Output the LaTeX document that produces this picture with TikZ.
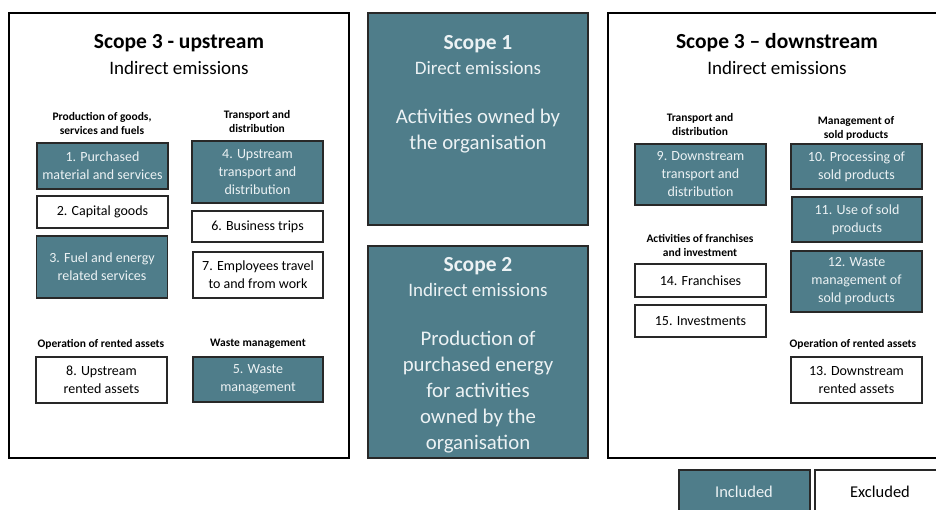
\documentclass[tikz,border=0pt]{standalone}
\usepackage{fontspec}
\setmainfont{Carlito}
\definecolor{teal}{RGB}{79,125,138}
\definecolor{lite}{RGB}{236,242,244}
\definecolor{edge}{RGB}{40,40,40}
\begin{document}
\begin{tikzpicture}[x=1pt,y=-1pt,
  frame/.style={draw=black,line width=2pt,fill=white,inner sep=0pt},
  big/.style={draw=edge,line width=1.6pt,fill=teal,inner sep=0pt},
  inc/.style={draw=edge,line width=1.2pt,fill=teal,text=lite,align=center,inner sep=0pt,font=\fontsize{14}{18}\selectfont},
  exc/.style={draw=edge,line width=1.2pt,fill=white,text=black,align=center,inner sep=0pt,font=\fontsize{14}{18}\selectfont},
  ttl/.style={font=\bfseries\fontsize{21.5}{22}\selectfont,inner sep=0pt},
  ttlb/.style={font=\bfseries\fontsize{21.5}{22}\selectfont,inner sep=0pt,text=lite},
  sub/.style={font=\fontsize{19}{20}\selectfont,inner sep=0pt},
  cat/.style={font=\bfseries\fontsize{11.5}{14}\selectfont,align=center,inner sep=0pt},
  body/.style={font=\fontsize{20.8}{26}\selectfont,align=center,inner sep=0pt,text=lite},
  leg/.style={font=\fontsize{16.5}{18}\selectfont,inner sep=0pt}]
\clip (0,0) rectangle (936,510);
\fill[white] (0,0) rectangle (936,510);
% frames
\node[frame,minimum width=340,minimum height=445] (up) at (179,235.5) {};
\node[big,minimum width=220,minimum height=212] (s1) at (478,119) {};
\node[big,minimum width=220,minimum height=212] (s2) at (478,352) {};
\node[frame,minimum width=340,minimum height=445] (down) at (778,235.5) {};
% upstream texts
\node[ttl] (uptitle) at (179,43) {Scope 3 - upstream};
\node[sub] (upsub) at (179,68) {Indirect emissions};
\node[cat] (c1) at (102,124) {Production of goods,\\services and fuels};
\node[cat] (c2) at (257,122) {Transport and\\distribution};
\node[cat] (c3) at (101,344) {Operation of rented assets};
\node[cat] (c4) at (258,344) {Waste management};
\node[inc,minimum width=131,minimum height=46] (b1) at (102.5,166) {1. Purchased\\material and services};
\node[exc,minimum width=131,minimum height=32] (b2) at (102.5,212) {2. Capital goods};
\node[inc,minimum width=131,minimum height=62] (b3) at (102,267) {3. Fuel and energy\\related services};
\node[inc,minimum width=131,minimum height=62] (b4) at (257.5,172) {4. Upstream\\transport and\\distribution};
\node[exc,minimum width=131,minimum height=31] (b6) at (257.5,226.5) {6. Business trips};
\node[exc,minimum width=130,minimum height=46] (b7) at (258,275) {7. Employees travel\\to and from work};
\node[exc,minimum width=131,minimum height=46] (b8) at (101.5,380) {8. Upstream\\rented assets};
\node[inc,minimum width=130,minimum height=45] (b5) at (258,379.5) {5. Waste\\management};
% scope 1 and 2 texts
\node[ttlb] (s1t) at (478,44) {Scope 1};
\node[sub,text=lite] (s1s) at (478,68) {Direct emissions};
\node[body] (s1b) at (478,131) {Activities owned by\\the organisation};
\node[ttlb] (s2t) at (478,266) {Scope 2};
\node[sub,text=lite] (s2s) at (478,290) {Indirect emissions};
\node[body] (s2b) at (478,392) {Production of\\purchased energy\\for activities\\owned by the\\organisation};
% downstream texts
\node[ttl] (dntitle) at (777,43) {Scope 3 -- downstream};
\node[sub] (dnsub) at (777,68) {Indirect emissions};
\node[cat] (d1) at (700,125) {Transport and\\distribution};
\node[cat] (d2) at (856,128) {Management of\\sold products};
\node[cat] (d3) at (700,245.5) {Activities of franchises\\and investment};
\node[cat] (d4) at (853,344) {Operation of rented assets};
\node[inc,minimum width=131,minimum height=61] (b9) at (700.5,174.5) {9. Downstream\\transport and\\distribution};
\node[inc,minimum width=131,minimum height=45] (b10) at (856.5,166.5) {10. Processing of\\sold products};
\node[inc,minimum width=130,minimum height=45] (b11) at (857,219.5) {11. Use of sold\\products};
\node[inc,minimum width=131,minimum height=61] (b12) at (856.5,281.5) {12. Waste\\management of\\sold products};
\node[exc,minimum width=131,minimum height=46] (b13) at (856.5,380) {13. Downstream\\rented assets};
\node[exc,minimum width=131,minimum height=33] (b14) at (700.5,280.5) {14. Franchises};
\node[exc,minimum width=131,minimum height=32] (b15) at (700.5,321) {15. Investments};
% legend
\node[inc,minimum width=131,minimum height=50] (linc) at (744.5,495) {};
\node[leg,text=lite] (linct) at (744,492) {Included};
\node[exc,minimum width=135,minimum height=50] (lexc) at (882.5,495) {};
\node[leg] (lexct) at (880,492) {Excluded};
\end{tikzpicture}
\end{document}
